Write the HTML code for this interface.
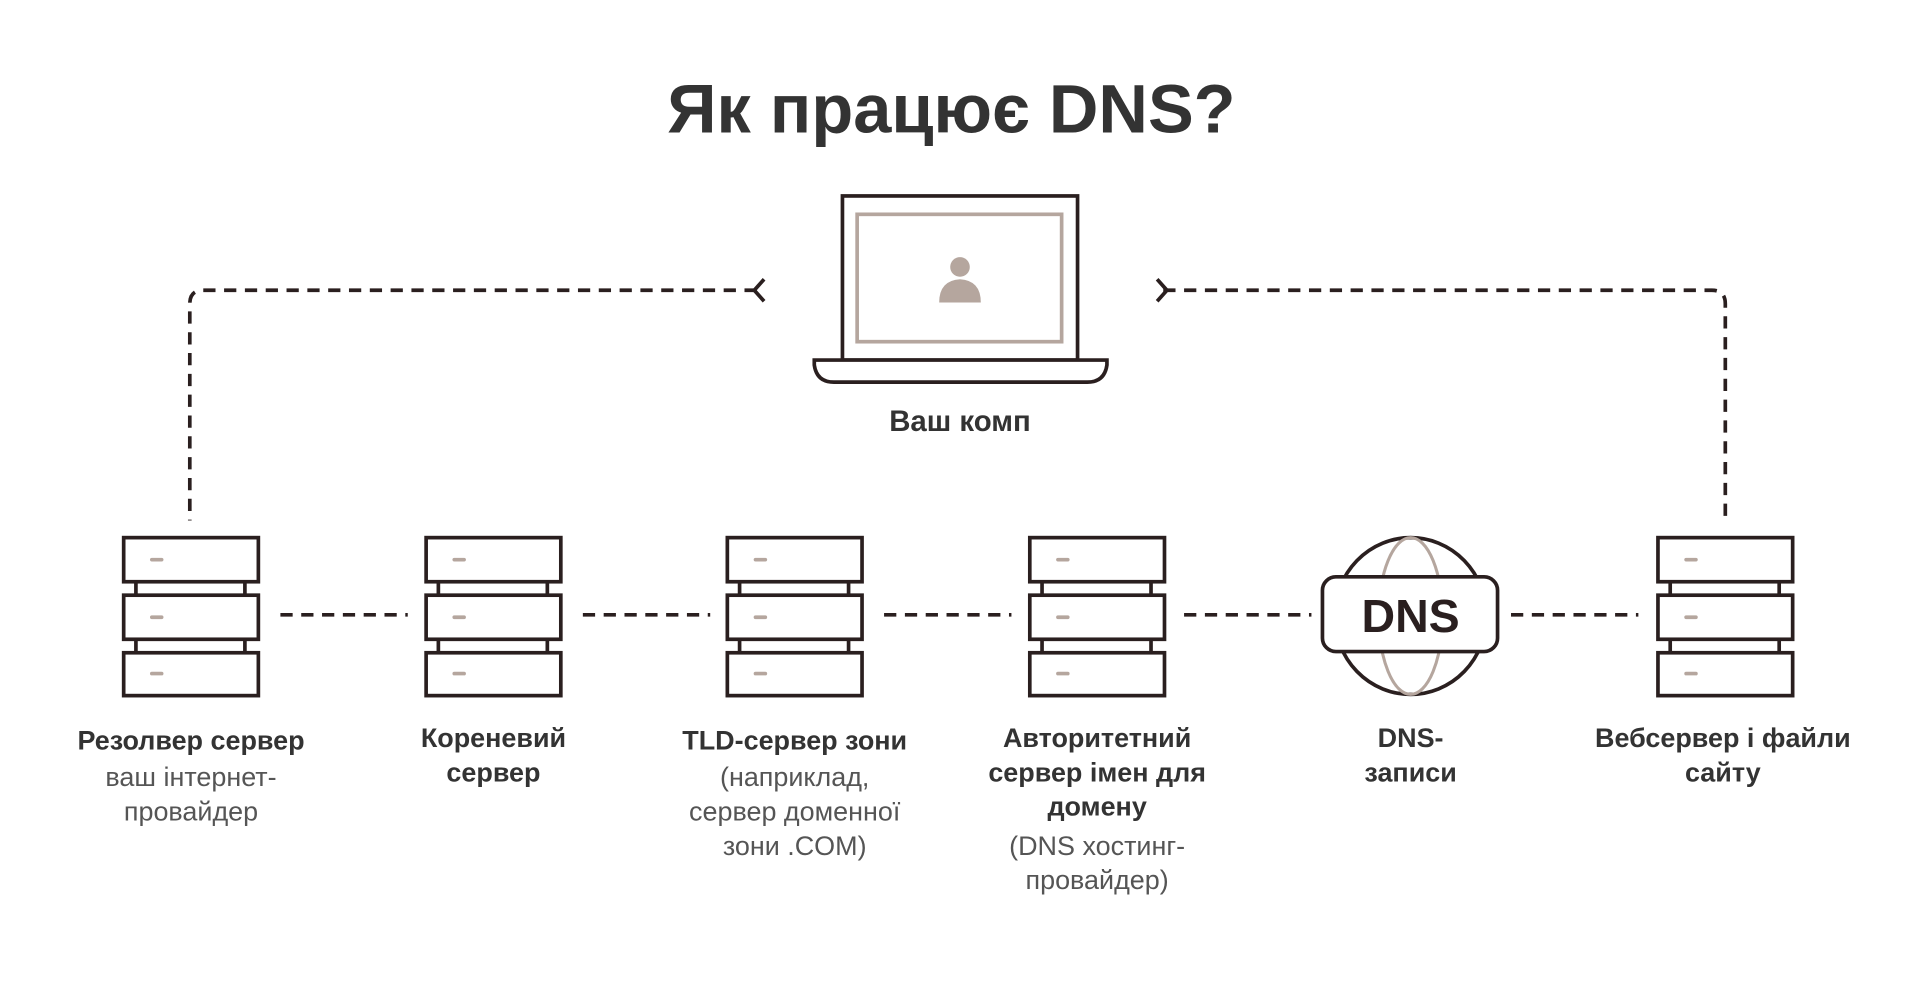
<!DOCTYPE html>
<html><head><meta charset="utf-8"><style>
html,body{margin:0;padding:0;background:#fff;}
svg{display:block;}
text{font-family:"Liberation Sans",sans-serif;}
.b{font-weight:bold;fill:#333;font-size:22px;}
.g{fill:#555;font-size:22px;}
</style></head><body>
<svg width="1920" height="992" viewBox="0 0 1568 810" preserveAspectRatio="none" xmlns="http://www.w3.org/2000/svg">
<defs>
<g id="srv" fill="#fff" stroke="#2a1f1f" stroke-width="3">
  <rect x="-55" y="439" width="110" height="36"/>
  <rect x="-55" y="486" width="110" height="36"/>
  <rect x="-55" y="533" width="110" height="35"/>
  <line x1="-45" y1="475" x2="-45" y2="486"/><line x1="44" y1="475" x2="44" y2="486"/>
  <line x1="-45" y1="522" x2="-45" y2="533"/><line x1="44" y1="522" x2="44" y2="533"/>
  <g stroke="#b5a69e" stroke-width="3" stroke-linecap="round">
    <line x1="-32" y1="457" x2="-24" y2="457"/>
    <line x1="-32" y1="504" x2="-24" y2="504"/>
    <line x1="-32" y1="550" x2="-24" y2="550"/>
  </g>
</g>
</defs>
<text x="777" y="108" text-anchor="middle" style="font-size:56px;font-weight:bold;fill:#333">Як працює DNS?</text>

<rect x="688" y="160" width="192" height="134" fill="#fff" stroke="#2a1f1f" stroke-width="3"/>
<rect x="700" y="175" width="167" height="104" fill="none" stroke="#b5a69e" stroke-width="3"/>
<circle cx="784" cy="218" r="8" fill="#b5a69e"/>
<path d="M767 247 Q767 229 784 228 Q801 229 801 247 Z" fill="#b5a69e"/>
<path d="M665 294 H904 V298 Q902 312 888 312 H681 Q667 312 665 298 Z" fill="#fff" stroke="#2a1f1f" stroke-width="3"/>
<text x="784" y="352" text-anchor="middle" class="b" style="font-size:24px">Ваш комп</text>

<g fill="none" stroke="#2a1f1f" stroke-width="3" stroke-dasharray="10 7">
  <path d="M618 237 H166 Q155 237 155 248 V425"/>
  <path d="M950 237 H1398 Q1409 237 1409 248 V425"/>
  <line x1="229" y1="502" x2="333" y2="502"/>
  <line x1="476" y1="502" x2="580" y2="502"/>
  <line x1="722" y1="502" x2="826" y2="502"/>
  <line x1="967" y1="502" x2="1071" y2="502"/>
  <line x1="1234" y1="502" x2="1338" y2="502"/>
</g>
<g fill="none" stroke="#2a1f1f" stroke-width="3" stroke-linejoin="round">
  <polyline points="624,228 616,237 624,246"/>
  <polyline points="945,228 953,237 945,246"/>
</g>

<use href="#srv" x="156"/>
<use href="#srv" x="403"/>
<use href="#srv" x="649"/>
<use href="#srv" x="896"/>
<use href="#srv" x="1409"/>

<ellipse cx="1152" cy="503" rx="62" ry="64" fill="#fff" stroke="#2a1f1f" stroke-width="3"/>
<ellipse cx="1152" cy="503" rx="26" ry="64" fill="none" stroke="#b5a69e" stroke-width="2.5"/>
<rect x="1080" y="471" width="143" height="61" rx="11" fill="#fff" stroke="#2a1f1f" stroke-width="3"/>
<text x="1152" y="516" text-anchor="middle" style="font-size:38px;font-weight:bold;fill:#2a1f1f">DNS</text>

<g text-anchor="middle">
<text x="156" y="612" class="b">Резолвер сервер</text>
<text x="156" y="642" class="g">ваш інтернет-</text>
<text x="156" y="670" class="g">провайдер</text>

<text x="403" y="610" class="b">Кореневий</text>
<text x="403" y="638" class="b">сервер</text>

<text x="649" y="612" class="b">TLD-сервер зони</text>
<text x="649" y="642" class="g">(наприклад,</text>
<text x="649" y="670" class="g">сервер доменної</text>
<text x="649" y="698" class="g">зони .COM)</text>

<text x="896" y="610" class="b">Авторитетний</text>
<text x="896" y="638" class="b">сервер імен для</text>
<text x="896" y="666" class="b">домену</text>
<text x="896" y="698" class="g">(DNS хостинг-</text>
<text x="896" y="726" class="g">провайдер)</text>

<text x="1152" y="610" class="b">DNS-</text>
<text x="1152" y="638" class="b">записи</text>

<text x="1407" y="610" class="b">Вебсервер і файли</text>
<text x="1407" y="638" class="b">сайту</text>
</g>
</svg>
</body></html>
